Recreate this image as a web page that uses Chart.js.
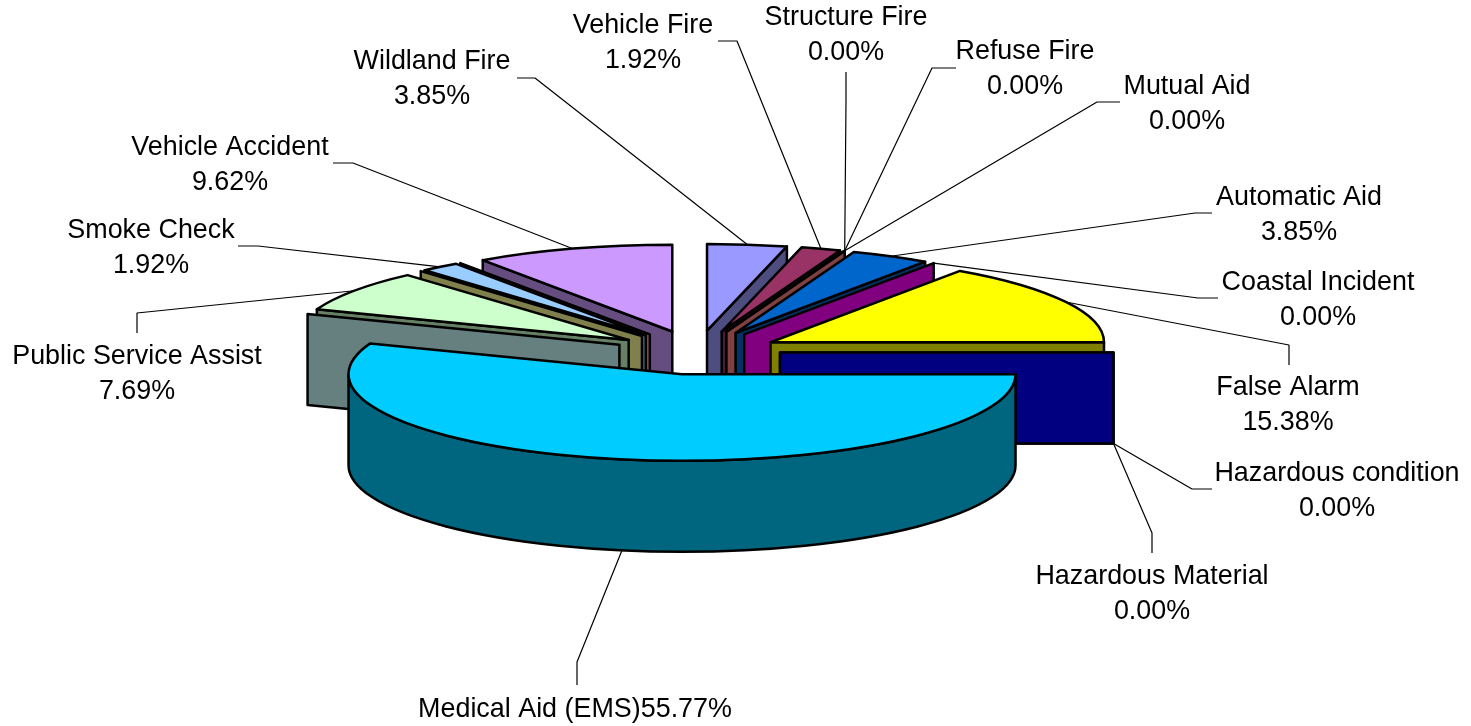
<!DOCTYPE html>
<html>
<head>
<meta charset="utf-8">
<title>Incident types</title>
<style>
  html, body { margin: 0; padding: 0; background: #fff; }
  canvas { display: block; }
</style>
</head>
<body>
<canvas id="chart" width="1471" height="726"></canvas>
<script src="https://cdn.jsdelivr.net/npm/chart.js@4/dist/chart.umd.min.js"></script>
<script>
// empty names = zero categories whose labels were removed in the original, only their walls show
const categories = ["Wildland Fire", "Vehicle Fire", "Structure Fire", "Refuse Fire", "Mutual Aid", "",
  "Automatic Aid", "Coastal Incident", "False Alarm", "Hazardous condition", "Hazardous Material",
  "Medical Aid (EMS)", "", "Public Service Assist", "", "Smoke Check", "", "Vehicle Accident"];
const percents = [3.85, 1.92, 0, 0, 0, 0, 3.85, 0, 15.38, 0, 0, 55.77, 0, 7.69, 0, 1.92, 0, 9.62];
const sliceColors = ["#9999ff", "#993366", "#ffffcc", "#ccffff", "#660066", "#ff8080",
  "#0066cc", "#ff00ff", "#ffff00", "#008080", "#0000ff",
  "#00ccff", "#ccffff", "#ccffcc", "#ffff99", "#99ccff", "#ff99cc", "#cc99ff"];

// label layout: name -> [center x, first line y, leader start x, start y, elbow x, elbow y]
const labelLayout = {
  "Wildland Fire": [432, 62, 517, 78, 535, 78],
  "Vehicle Fire": [643, 26, 718, 41, 737, 41],
  "Structure Fire": [846, 18, 846, 72, 846, 100],
  "Refuse Fire": [1025, 52, 956, 68, 932, 68],
  "Mutual Aid": [1187, 87, 1120, 102, 1097, 102],
  "Automatic Aid": [1299, 198, 1212, 213, 1195, 213],
  "Coastal Incident": [1318, 283, 1218, 298, 1198, 298],
  "False Alarm": [1288, 388, 1289, 365, 1289, 345],
  "Hazardous condition": [1337, 474, 1212, 489, 1192, 489],
  "Hazardous Material": [1152, 577, 1152, 553, 1152, 533],
  "Medical Aid (EMS)": [575, 710, 577, 685, 577, 662],
  "Public Service Assist": [137, 357, 137, 333, 137, 313],
  "Smoke Check": [151, 231, 238, 246, 258, 246],
  "Vehicle Accident": [230, 148, 333, 163, 353, 163]
};

const SQUASH = 0.26;     // tilt of the pie
const EXPLODE_X = 83;    // explosion distance, across
const EXPLODE_Y = 22;    // explosion distance, on screen depth
const DEPTH = 91;        // height of the walls
const LINE_H = 34.5;

function darker(hex) {
  const n = parseInt(hex.slice(1), 16);
  const h = v => Math.round(v / 2);
  return `rgb(${h((n >> 16) & 255)},${h((n >> 8) & 255)},${h(n & 255)})`;
}

function sliceGeom(arc) {
  const mid = (arc.startAngle + arc.endAngle) / 2;
  return {
    mid,
    ox: arc.x + Math.cos(mid) * EXPLODE_X,
    oy: arc.y + Math.sin(mid) * EXPLODE_Y,
    r: arc.outerRadius,
    s: arc.startAngle,
    e: arc.endAngle
  };
}

function drawFace(ctx, g, angle, color) {
  const px = g.ox + Math.cos(angle) * g.r;
  const py = g.oy + Math.sin(angle) * g.r * SQUASH;
  ctx.beginPath();
  ctx.moveTo(g.ox, g.oy);
  ctx.lineTo(px, py);
  ctx.lineTo(px, py + DEPTH);
  ctx.lineTo(g.ox, g.oy + DEPTH);
  ctx.closePath();
  ctx.fillStyle = color;
  ctx.fill();
  ctx.stroke();
}

function drawRim(ctx, g, color) {
  const a1 = Math.max(g.s, 0);
  const a2 = Math.min(g.e, Math.PI);
  if (a2 <= a1) return;
  ctx.beginPath();
  ctx.ellipse(g.ox, g.oy, g.r, g.r * SQUASH, 0, a1, a2);
  ctx.ellipse(g.ox, g.oy + DEPTH, g.r, g.r * SQUASH, 0, a2, a1, true);
  ctx.closePath();
  ctx.fillStyle = color;
  ctx.fill();
  ctx.stroke();
}

const pie3d = {
  id: "pie3d",
  beforeDatasetsDraw(chart) {
    const ctx = chart.ctx;
    const arcs = chart.getDatasetMeta(0).data;
    const order = arcs.map((a, i) => i).sort((a, b) =>
      Math.sin((arcs[a].startAngle + arcs[a].endAngle) / 2) - Math.sin((arcs[b].startAngle + arcs[b].endAngle) / 2));

    ctx.save();
    ctx.lineWidth = 2.5;
    ctx.strokeStyle = "#000";
    ctx.lineJoin = "round";

    for (const i of order) {
      const arc = arcs[i];
      const g = sliceGeom(arc);
      const wall = darker(sliceColors[i]);

      if (Math.cos(g.s) < 0) drawFace(ctx, g, g.s, wall);
      if (Math.cos(g.e) > 0 && !(g.e === g.s && Math.cos(g.s) < 0)) drawFace(ctx, g, g.e, wall);
      drawRim(ctx, g, wall);

      if (arc.circumference > 0) {
        ctx.save();
        ctx.translate(g.ox, g.oy);
        ctx.scale(1, SQUASH);
        ctx.translate(-arc.x, -arc.y);
        arc.draw(ctx);
        ctx.restore();

        ctx.beginPath();
        ctx.moveTo(g.ox, g.oy);
        ctx.ellipse(g.ox, g.oy, g.r, g.r * SQUASH, 0, g.s, g.e);
        ctx.closePath();
        ctx.stroke();
      }
    }

    // leader lines and labels
    ctx.lineWidth = 1.2;
    ctx.strokeStyle = "#000";
    ctx.fillStyle = "#000";
    ctx.font = '26.9px "Liberation Sans", Arial, sans-serif';
    ctx.textAlign = "center";
    ctx.textBaseline = "middle";
    categories.forEach((name, i) => {
      const l = labelLayout[name];
      if (!l) return;
      const g = sliceGeom(arcs[i]);
      const ax = g.ox + Math.cos(g.mid) * g.r;
      let ay = g.oy + Math.sin(g.mid) * g.r * SQUASH;
      if (Math.sin(g.mid) > -0.05) ay += DEPTH;
      ctx.beginPath();
      ctx.moveTo(l[2], l[3]);
      ctx.lineTo(l[4], l[5]);
      ctx.lineTo(ax, ay);
      ctx.stroke();

      const pct = percents[i].toFixed(2) + "%";
      if (name === "Medical Aid (EMS)") {
        ctx.fillText(name + pct, l[0], l[1]);
      } else {
        ctx.fillText(name, l[0], l[1]);
        ctx.fillText(pct, l[0], l[1] + LINE_H);
      }
    });
    ctx.restore();
    return false;
  }
};

new Chart(document.getElementById("chart"), {
  type: "pie",
  data: {
    labels: categories,
    datasets: [{
      data: percents,
      backgroundColor: sliceColors,
      borderWidth: 0
    }]
  },
  options: {
    responsive: false,
    animation: false,
    radius: 333.5,
    layout: { padding: { right: 77, bottom: 21 } },
    plugins: {
      legend: { display: false },
      tooltip: { enabled: false }
    }
  },
  plugins: [pie3d]
});
</script>
</body>
</html>
